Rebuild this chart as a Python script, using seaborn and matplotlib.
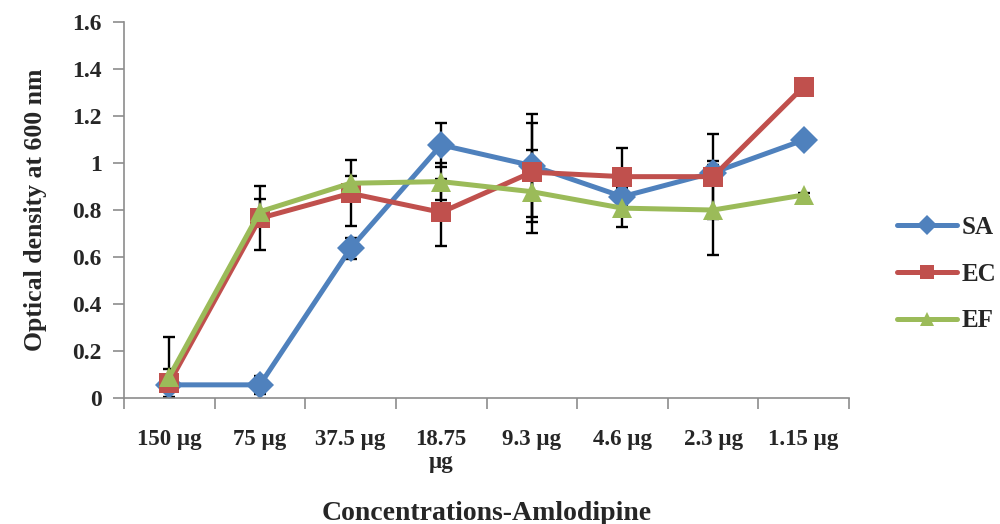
import numpy as np
import pandas as pd
import seaborn as sns
import matplotlib.pyplot as plt

# categories and values
conc = ['150 µg', '75 µg', '37.5 µg', '18.75\nµg', '9.3 µg', '4.6 µg', '2.3 µg', '1.15 µg']
sa = [0.057, 0.057, 0.638, 1.078, 0.99, 0.858, 0.96, 1.099]
ec = [0.066, 0.766, 0.872, 0.791, 0.962, 0.943, 0.943, 1.326]
ef = [0.092, 0.794, 0.915, 0.922, 0.879, 0.809, 0.801, 0.865]
sa_err = [0, 0.037, 0.044, 0.092, 0.22, 0.04, 0.05, 0]
ec_err = [0.06, 0.137, 0.14, 0.143, 0.21, 0.12, 0.18, 0]
ef_err = [0.17, 0.055, 0.032, 0.08, 0.177, 0.08, 0.19, 0.01]
series = ['SA', 'EC', 'EF']

sns.set_style('white')
plt.rcParams['font.family'] = ['Liberation Serif', 'DejaVu Serif']
plt.rcParams['font.weight'] = 'bold'

pos = np.arange(len(conc))
df = pd.DataFrame({
    'x': np.tile(pos, 3),
    'od': sa + ec + ef,
    'err': sa_err + ec_err + ef_err,
    'series': np.repeat(series, len(conc)),
})

colors = {'SA': '#4F81BD', 'EC': '#C0504D', 'EF': '#9BBB59'}
markers = {'SA': 'D', 'EC': 's', 'EF': '^'}

fig = plt.figure(figsize=(10, 5.24), dpi=100)
ax = fig.add_axes([0.124, 0.24, 0.725, 0.7175])

# error bars under the markers
for s in series:
    d = df[df.series == s]
    ax.errorbar(d.x, d.od, yerr=d.err, fmt='none', ecolor='black',
                elinewidth=1.7, capsize=4.5, capthick=1.7, zorder=1)

sns.lineplot(data=df, x='x', y='od', hue='series', style='series',
             palette=colors, markers=markers, dashes=False, linewidth=3.6,
             markersize=14, markeredgewidth=0, ax=ax, zorder=2)

ax.set_ylim(0, 1.6)
ax.set_xlim(-0.5, len(conc) - 0.5)
ax.set_yticks(np.arange(0, 1.61, 0.2))
ax.set_yticklabels(['0', '0.2', '0.4', '0.6', '0.8', '1', '1.2', '1.4', '1.6'],
                   fontsize=17, fontweight='bold')
ax.set_xticks(pos)
ax.set_xticklabels(conc, fontsize=16.5, fontweight='bold', linespacing=1.15)
ax.set_xticks(np.arange(-0.5, len(conc), 1), minor=True)
ax.tick_params(axis='x', which='major', length=0, pad=22)
ax.tick_params(axis='x', which='minor', length=8, width=1.2, color='#8c8c8c',
               direction='out', bottom=True)
ax.tick_params(axis='y', length=8, width=1.2, color='#8c8c8c', direction='out',
               left=True, pad=8)
for side in ['top', 'right']:
    ax.spines[side].set_visible(False)
for side in ['left', 'bottom']:
    ax.spines[side].set_color('#8c8c8c')
    ax.spines[side].set_linewidth(1.2)

ax.set_xlabel('Concentrations-Amlodipine', fontsize=20, fontweight='bold', labelpad=20)
ax.set_ylabel('Optical density at 600 nm', fontsize=18.5, fontweight='bold', labelpad=18)

h, l = ax.get_legend_handles_labels()
ax.legend(h, l, loc='center left', bbox_to_anchor=(1.035, 0.33), frameon=False,
          labelspacing=0.95, handlelength=2.4, handletextpad=0.2, markerscale=0.75,
          prop={'weight': 'bold', 'size': 18})

fig.savefig('out.png', dpi=100)
